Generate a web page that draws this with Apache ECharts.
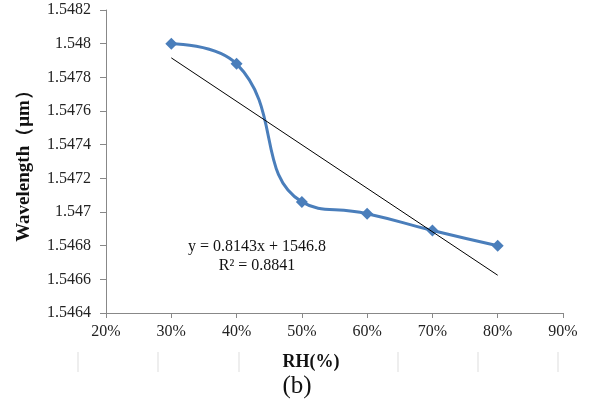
<!DOCTYPE html>
<html>
<head>
<meta charset="utf-8">
<script src="https://cdn.jsdelivr.net/npm/echarts@6/dist/echarts.min.js"></script>
<style>html,body{margin:0;padding:0;background:#fff;}#c{width:593px;height:406px;}</style>
</head>
<body>
<div id="c"></div>
<script>
const rhPercent = [30, 40, 50, 60, 70, 80];
const wavelength = [1.5480, 1.54788, 1.54706, 1.54699, 1.54689, 1.5468];
const xTicks = { min: 20, max: 90, step: 10 };
const yTicks = { min: 1.5464, max: 1.5482, step: 0.0002 };
const equationText = ['y = 0.8143x + 1546.8', 'R² = 0.8841'];

// least-squares linear trendline computed from the data
const n = rhPercent.length;
const mx = rhPercent.reduce((a, b) => a + b, 0) / n;
const my = wavelength.reduce((a, b) => a + b, 0) / n;
let sxy = 0, sxx = 0;
for (let i = 0; i < n; i++) { sxy += (rhPercent[i] - mx) * (wavelength[i] - my); sxx += (rhPercent[i] - mx) ** 2; }
const slope = sxy / sxx, icpt = my - slope * mx;
const trendX = [rhPercent[0], rhPercent[n - 1]];
const trendData = trendX.map(x => [x, icpt + slope * x]);

const serif = '"Liberation Serif","Times New Roman",serif';
const chart = echarts.init(document.getElementById('c'));
chart.setOption({
  animation: false,
  backgroundColor: '#fff',
  grid: { left: 106, right: 30, top: 10, bottom: 93 },
  xAxis: {
    type: 'value', min: xTicks.min, max: xTicks.max, interval: xTicks.step,
    axisLine: { lineStyle: { color: '#888', width: 1 } },
    axisTick: { show: true, length: 5, lineStyle: { color: '#888' } },
    splitLine: { show: false },
    axisLabel: { formatter: '{value}%', color: '#222', fontFamily: serif, fontSize: 16, margin: 11 }
  },
  yAxis: {
    type: 'value', min: yTicks.min, max: yTicks.max, interval: yTicks.step,
    name: 'Wavelength（μm）', nameLocation: 'middle', nameGap: 72, nameRotate: 90,
    nameTextStyle: { fontFamily: serif, fontSize: 19, fontWeight: 'bold', color: '#111' },
    axisLine: { show: true, lineStyle: { color: '#888', width: 1 } },
    axisTick: { show: true, length: 6, lineStyle: { color: '#888' } },
    splitLine: { show: false },
    axisLabel: { formatter: v => String(parseFloat(v.toFixed(4))), color: '#222', fontFamily: serif, fontSize: 16, margin: 15 }
  },
  series: [
    {
      type: 'line', smooth: 0.5,
      data: rhPercent.map((x, i) => [x, wavelength[i]]),
      symbol: 'path://M0,-1L1,0L0,1L-1,0Z', symbolSize: 12,
      itemStyle: { color: '#4a7ebb' },
      lineStyle: { color: '#4a7ebb', width: 3 }
    },
    {
      type: 'line', data: trendData, symbol: 'none',
      lineStyle: { color: '#000', width: 1 }, z: 5
    }
  ],
  graphic: [
    { type: 'text', x: 257, y: 247, style: { text: equationText[0], fill: '#111', font: '16px ' + serif, textAlign: 'center', textVerticalAlign: 'middle' } },
    { type: 'text', x: 257, y: 266, style: { text: equationText[1], fill: '#111', font: '16px ' + serif, textAlign: 'center', textVerticalAlign: 'middle' } },
    { type: 'text', x: 311, y: 362, style: { text: 'RH(%)', fill: '#111', font: 'bold 18px ' + serif, textAlign: 'center', textVerticalAlign: 'middle' } },
    { type: 'text', x: 297, y: 386, style: { text: '(b)', fill: '#111', font: '25px ' + serif, textAlign: 'center', textVerticalAlign: 'middle' } },
    ...[78, 158, 239, 398, 478, 558].map(x => ({ type: 'line', shape: { x1: x, y1: 352, x2: x, y2: 372 }, style: { stroke: '#ddd', lineWidth: 1 } }))
  ]
});
</script>
</body>
</html>
